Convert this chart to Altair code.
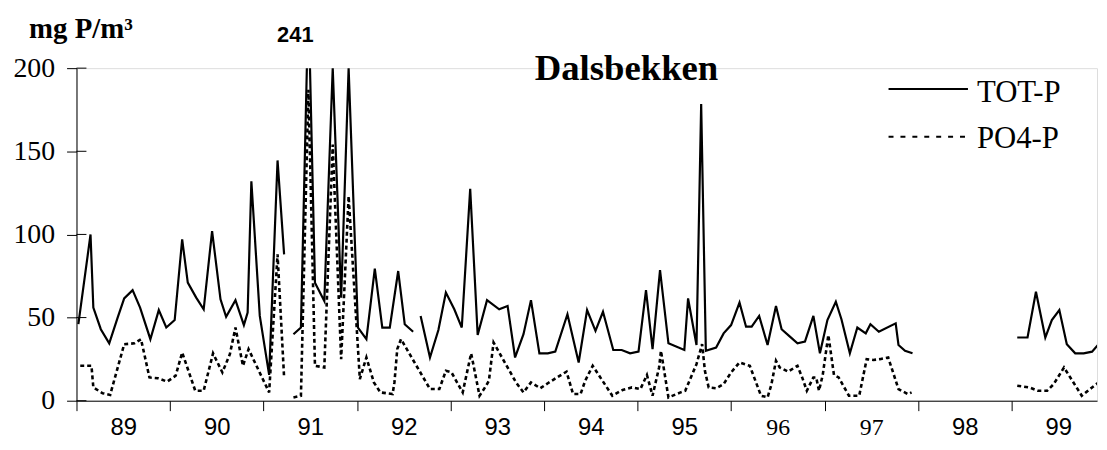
import altair as alt
import pandas as pd

# ---------------- data (decimal years, mg P/m3) ----------------
tot_years_a = [1989.02, 1989.15, 1989.18, 1989.26, 1989.35, 1989.44, 1989.51, 1989.60, 1989.68, 1989.79,
               1989.88, 1989.96, 1990.05, 1990.13, 1990.19, 1990.28, 1990.36, 1990.45, 1990.54, 1990.60,
               1990.70, 1990.79, 1990.83, 1990.87, 1990.96, 1991.06, 1991.15, 1991.22]
tot_vals_a = [46, 100, 56, 43, 34.5, 50, 61.5, 66.5, 56, 37,
              54.5, 44, 48.5, 97, 71, 62, 55, 102, 61, 50.5,
              60.5, 45.5, 53, 132, 51, 15.5, 144.5, 88]

tot_years_b = [1991.32, 1991.40, 1991.48, 1991.55, 1991.65, 1991.74, 1991.83, 1991.91, 1992.01, 1992.10,
               1992.19, 1992.27, 1992.35, 1992.44, 1992.51, 1992.60]
tot_vals_b = [40, 44, 241, 71, 60, 200, 62, 200, 44, 37,
              79.5, 44, 44, 78, 46, 41.5]

tot_years_c = [1992.68, 1992.78, 1992.87, 1992.95, 1993.04, 1993.12, 1993.21, 1993.29, 1993.39, 1993.52,
               1993.61, 1993.69, 1993.78, 1993.86, 1993.95, 1994.04, 1994.12, 1994.25, 1994.37, 1994.46,
               1994.55, 1994.63, 1994.74, 1994.83, 1994.92, 1995.01, 1995.09, 1995.16, 1995.24, 1995.33,
               1995.50, 1995.54, 1995.63, 1995.68, 1995.73, 1995.84, 1995.92, 1996.00, 1996.09, 1996.16,
               1996.22, 1996.30, 1996.39, 1996.48, 1996.54, 1996.62, 1996.71, 1996.79, 1996.88, 1996.95,
               1997.03, 1997.12, 1997.18, 1997.27, 1997.35, 1997.44, 1997.49, 1997.58, 1997.76, 1997.79,
               1997.86, 1997.94]
tot_vals_c = [51, 26, 42.5, 65, 55, 44, 127.5, 39.5, 60.5, 55,
              57, 26, 40, 60.5, 28.5, 28.5, 29.5, 52, 23, 54.5,
              42, 53.5, 30.5, 30.5, 28.5, 29.5, 66.5, 31, 78.5, 34.5,
              30.5, 61.5, 33.5, 178.5, 30, 32, 40.5, 45.5, 59, 44.5,
              44.5, 51, 33.5, 57, 43, 39, 34.5, 35.5, 51, 28.5,
              48.5, 59.5, 49, 28.5, 44, 40.5, 46, 41.5, 46.5, 33.5,
              30, 28.5]

tot_years_d = [1999.06, 1999.17, 1999.26, 1999.36, 1999.43, 1999.51, 1999.59, 1999.68, 1999.77, 1999.86, 1999.93]
tot_vals_d = [38, 38, 65.5, 38, 48.5, 54.5, 34, 28.5, 28.5, 29.5, 34]

po4_years_a = [1989.04, 1989.16, 1989.18, 1989.28, 1989.36, 1989.51, 1989.62, 1989.69, 1989.78, 1989.87,
               1989.97, 1990.06, 1990.13, 1990.27, 1990.36, 1990.46, 1990.56, 1990.64, 1990.70, 1990.78,
               1990.84, 1991.06, 1991.15, 1991.22]
po4_vals_a = [21, 21, 8, 4.5, 3.5, 34, 34.5, 37, 14, 13.5,
              11.5, 15, 29, 6, 6, 28.5, 17, 28, 44, 21,
              31, 5, 88, 14]

po4_years_b = [1991.32, 1991.40, 1991.48, 1991.55, 1991.65, 1991.74, 1991.83, 1991.91, 1992.03, 1992.10,
               1992.18, 1992.25, 1992.38, 1992.40, 1992.43, 1992.47, 1992.78, 1992.88, 1992.95, 1993.01,
               1993.13, 1993.22, 1993.31, 1993.38, 1993.41, 1993.46, 1993.70, 1993.78, 1993.86, 1993.96,
               1994.04, 1994.11, 1994.24, 1994.31, 1994.39, 1994.44, 1994.52, 1994.73, 1994.84, 1994.94,
               1995.03, 1995.10, 1995.16, 1995.23, 1995.25, 1995.33, 1995.46, 1995.51, 1995.63, 1995.69,
               1995.72, 1995.76, 1995.84, 1995.92, 1996.00, 1996.09, 1996.20, 1996.32, 1996.39, 1996.43,
               1996.48, 1996.52, 1996.61, 1996.71, 1996.76, 1996.81, 1996.88, 1996.91, 1996.94, 1996.98,
               1997.04, 1997.10, 1997.15, 1997.26, 1997.37, 1997.45, 1997.52, 1997.59, 1997.68, 1997.79,
               1997.89, 1997.93]
po4_vals_b = [2, 3, 187, 21, 20, 154, 25, 123, 13, 26,
              11, 5, 4, 11, 31, 37, 7, 7, 18, 17,
              5, 28.5, 3, 9, 12, 35, 11, 5, 11, 7.5,
              10.5, 13, 17.5, 4, 4, 12, 21, 3, 6.5, 8,
              7, 15.5, 3, 20, 30, 2, 5, 6, 22, 34,
              18, 8, 7.5, 10, 17, 23, 21, 3, 2, 9.5,
              24, 20, 17.5, 21, 14, 6, 14, 14, 6, 15.5,
              39.5, 15.5, 14, 3, 3, 25, 24.5, 25, 26, 7,
              4, 5]

po4_years_c = [1999.06, 1999.19, 1999.28, 1999.38, 1999.45, 1999.56, 1999.75, 1999.86, 1999.93]
po4_vals_c = [9, 8, 6, 6, 10, 20, 3, 8, 11]

year_ticks = list(range(1989, 2000))
year_labels = ["89", "90", "91", "92", "93", "94", "95", "96", "97", "98", "99"]
y_ticks = [0, 50, 100, 150, 200]
legend_labels = ["TOT-P", "PO4-P"]
chart_title = "Dalsbekken"
y_title = "mg P/m³"
peak_label = ["241"]
peak_year = [1991.34]
peak_pos = [216]


def frame(years, values, seg):
    return pd.DataFrame({"year": years, "value": values, "seg": seg})


tot_df = pd.concat([frame(tot_years_a, tot_vals_a, "a"), frame(tot_years_b, tot_vals_b, "b"),
                    frame(tot_years_c, tot_vals_c, "c"), frame(tot_years_d, tot_vals_d, "d")])
po4_df = pd.concat([frame(po4_years_a, po4_vals_a, "a"), frame(po4_years_b, po4_vals_b, "b"),
                    frame(po4_years_c, po4_vals_c, "c")])

label_expr = "[" + ",".join("'%s'" % s for s in year_labels) + "][datum.value - %d]" % year_ticks[0]

x_scale = alt.Scale(domain=[1989, 1999.913], nice=False, zero=False)
y_scale = alt.Scale(domain=[0, 200], nice=False)

x_enc = alt.X("year:Q", scale=x_scale,
              axis=alt.Axis(values=year_ticks, labelExpr=label_expr, labelOffset=47, tickSize=10,
                            labelFont={"condition": {"test": "datum.value == 1996 || datum.value == 1997",
                                                     "value": "Liberation Serif"},
                                       "value": "Liberation Sans"},
                            labelFontSize=24, labelPadding=5, labelColor="black",
                            labelOverlap=False, labelFlush=False, labelBound=False,
                            grid=False, title=None, domainColor="black", tickColor="black"))
y_enc = alt.Y("value:Q", scale=y_scale,
              axis=alt.Axis(values=y_ticks, tickSize=10, labelFont="Liberation Serif", labelFontSize=28,
                            labelPadding=12, labelColor="black", grid=False,
                            title=y_title, titleAngle=0, titleX=4, titleY=-31, titleAlign="center",
                            titleBaseline="alphabetic", titleFont="Liberation Serif", titleFontSize=29,
                            titleFontWeight="bold", titleColor="black",
                            domainColor="black", tickColor="black"))

tot_line = alt.Chart(tot_df).mark_line(color="black", strokeWidth=2.2, clip=True).encode(
    x=x_enc, y=y_enc, detail="seg:N")
po4_line = alt.Chart(po4_df).mark_line(color="black", strokeWidth=2.6, strokeDash=[4, 3], clip=True).encode(
    x="year:Q", y="value:Q", detail="seg:N")

ytick_rules = alt.Chart(pd.DataFrame({"value": y_ticks})).mark_rule(color="black", strokeWidth=1).encode(
    y="value:Q", x=alt.value(0), x2=alt.value(10))

peak_text = alt.Chart(pd.DataFrame({"year": peak_year, "value": peak_pos, "label": peak_label})).mark_text(
    font="Liberation Sans", fontWeight="bold", fontSize=22, align="center", baseline="alphabetic",
    color="black").encode(x="year:Q", y="value:Q", text="label:N")

title_text = alt.Chart(pd.DataFrame({"label": [chart_title]})).mark_text(
    font="Liberation Serif", fontWeight="bold", fontSize=37, align="center", baseline="alphabetic",
    color="black").encode(x=alt.value(554), y=alt.value(12), text="label:N")

leg_tot_rule = alt.Chart(pd.DataFrame({"label": [legend_labels[0]]})).mark_rule(
    color="black", strokeWidth=2).encode(x=alt.value(818), x2=alt.value(898), y=alt.value(21))
leg_po4_rule = alt.Chart(pd.DataFrame({"label": [legend_labels[1]]})).mark_rule(
    color="black", strokeWidth=2, strokeDash=[5, 7]).encode(x=alt.value(818), x2=alt.value(898), y=alt.value(69))
leg_tot_text = alt.Chart(pd.DataFrame({"label": [legend_labels[0]]})).mark_text(
    font="Liberation Serif", fontSize=31, align="left", baseline="alphabetic", color="black").encode(
    x=alt.value(907), y=alt.value(34), text="label:N")
leg_po4_text = alt.Chart(pd.DataFrame({"label": [legend_labels[1]]})).mark_text(
    font="Liberation Serif", fontSize=31, align="left", baseline="alphabetic", color="black").encode(
    x=alt.value(907), y=alt.value(80), text="label:N")

chart = alt.layer(
    tot_line, po4_line, ytick_rules, peak_text, title_text,
    leg_tot_rule, leg_po4_rule, leg_tot_text, leg_po4_text
).properties(
    width=1028, height=335, autosize="none",
    padding={"left": 69, "top": 59, "right": 2, "bottom": 40}
).configure_view(stroke=None).configure(background="white").configure_axisY(
    labelFont="Liberation Serif", labelFontSize=28)

chart.save("out.html", embed_options={"renderer": "svg", "actions": False})
